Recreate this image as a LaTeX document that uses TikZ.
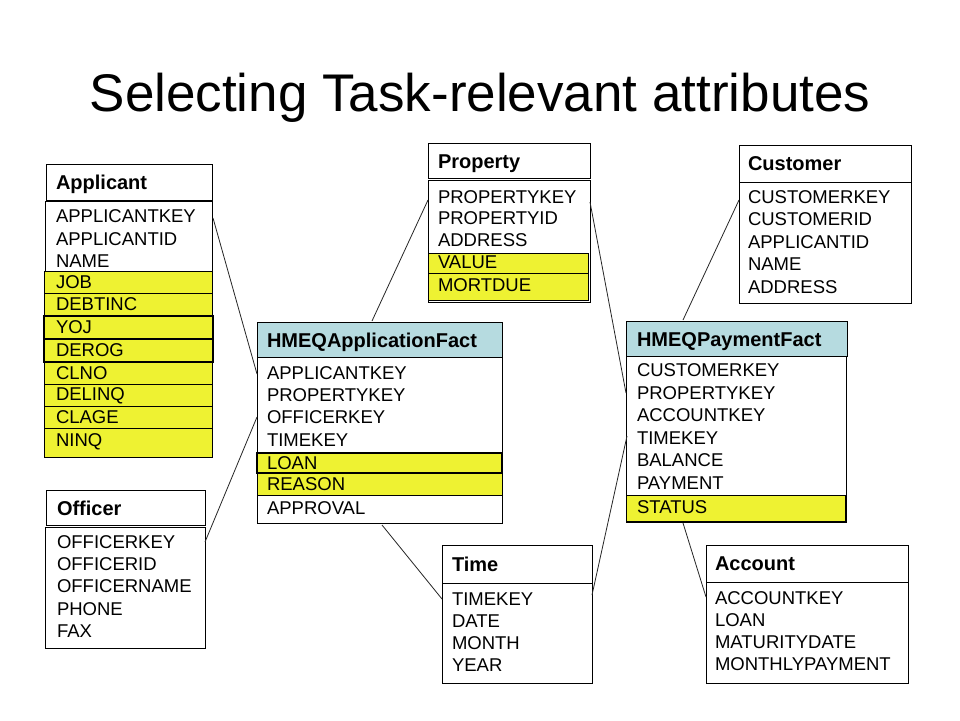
\documentclass[tikz,border=0pt]{standalone}
\usepackage{fontspec}
\setmainfont{Liberation Sans}
\usetikzlibrary{calc}
\definecolor{hlyellow}{RGB}{238,242,50}
\definecolor{hdrblue}{RGB}{182,219,224}
\tikzset{
  tbox/.style={draw=black, line width=1pt, fill=white, anchor=north west, inner sep=0pt, outer sep=0pt},
  factbox/.style={tbox, fill=hdrblue},
  hlrow/.style={draw=black, line width=1pt, fill=hlyellow, anchor=north west, inner sep=0pt, outer sep=0pt},
  fld/.style={anchor=west, inner sep=0pt, outer sep=0pt, text height=13.2pt, text depth=0pt, font=\fontsize{18.5}{20}\selectfont},
  ttl/.style={anchor=west, inner sep=0pt, outer sep=0pt, text height=14.3pt, text depth=0pt, font=\fontsize{20}{22}\selectfont\bfseries},
  link/.style={draw=black!85, line width=0.8pt}
}
\begin{document}
\begin{tikzpicture}[x=1pt,y=-1pt]
\path[use as bounding box, fill=white] (0,0) rectangle (960,720);

\node[anchor=base, inner sep=0pt, font=\fontsize{53}{60}\selectfont] (title) at (480,111) {Selecting Task-relevant attributes};

% ---------- Applicant ----------
\node[tbox, minimum width=166pt, minimum height=36pt] (appH) at (46,164) {};
\node[ttl] (appT) at (56,182) {Applicant};
\node[tbox, minimum width=167pt, minimum height=256pt] (appB) at (45,201) {};
\node[hlrow, minimum width=168pt, minimum height=22pt] (appY1) at (44,271) {};
\node[hlrow, minimum width=168pt, minimum height=23pt] (appY2) at (44,293) {};
\node[hlrow, minimum width=169pt, minimum height=23pt, line width=1.3pt] (appY3) at (44,316) {};
\node[hlrow, minimum width=169pt, minimum height=23pt, line width=1.3pt] (appY4) at (44,339) {};
\node[hlrow, minimum width=168pt, minimum height=22pt] (appY5) at (44,362) {};
\node[hlrow, minimum width=168pt, minimum height=22pt] (appY6) at (44,384) {};
\node[hlrow, minimum width=168pt, minimum height=22pt] (appY7) at (44,406) {};
\node[hlrow, minimum width=168pt, minimum height=29pt] (appY8) at (44,428) {};
\node[fld] (a1) at (56,216) {APPLICANTKEY};
\node[fld] (a2) at (56,239) {APPLICANTID};
\node[fld] (a3) at (56,261) {NAME};
\node[fld] (a4) at (56,282) {JOB};
\node[fld] (a5) at (56,304) {DEBTINC};
\node[fld] (a6) at (56,327) {YOJ};
\node[fld] (a7) at (56,350) {DEROG};
\node[fld] (a8) at (56,373) {CLNO};
\node[fld] (a9) at (56,394) {DELINQ};
\node[fld] (a10) at (56,417) {CLAGE};
\node[fld] (a11) at (56,440) {NINQ};

% ---------- Officer ----------
\node[tbox, minimum width=159pt, minimum height=35pt] (offH) at (46,490) {};
\node[ttl] (offT) at (57,508) {Officer};
\node[tbox, minimum width=160pt, minimum height=121pt] (offB) at (45,527) {};
\node[fld] (o1) at (57,542) {OFFICERKEY};
\node[fld] (o2) at (57,564) {OFFICERID};
\node[fld] (o3) at (57,586) {OFFICERNAME};
\node[fld] (o4) at (57,609) {PHONE};
\node[fld] (o5) at (57,631) {FAX};

% ---------- Property ----------
\node[tbox, minimum width=162pt, minimum height=35pt] (propH) at (428,143) {};
\node[ttl] (propT) at (438,161) {Property};
\node[tbox, minimum width=162pt, minimum height=122pt] (propB) at (428,180) {};
\node[hlrow, minimum width=160pt, minimum height=20pt] (propY1) at (428,253) {};
\node[hlrow, minimum width=160pt, minimum height=27pt] (propY2) at (428,273) {};
\node[fld] (p1) at (438,197) {PROPERTYKEY};
\node[fld] (p2) at (438,218) {PROPERTYID};
\node[fld] (p3) at (438,240) {ADDRESS};
\node[fld] (p4) at (438,262) {VALUE};
\node[fld] (p5) at (438,285) {MORTDUE};

% ---------- HMEQApplicationFact ----------
\node[factbox, minimum width=245pt, minimum height=35pt] (factH) at (257,322) {};
\node[ttl] (factT) at (267,340) {HMEQApplicationFact};
\node[tbox, minimum width=245pt, minimum height=166pt] (factB) at (257,357) {};
\node[hlrow, minimum width=245pt, minimum height=20pt, line width=1.4pt] (factY1) at (257,453) {};
\node[hlrow, minimum width=245pt, minimum height=22pt] (factY2) at (257,473) {};
\node[fld] (f1) at (267,373) {APPLICANTKEY};
\node[fld] (f2) at (267,395) {PROPERTYKEY};
\node[fld] (f3) at (267,417) {OFFICERKEY};
\node[fld] (f4) at (267,440) {TIMEKEY};
\node[fld] (f5) at (267,463) {LOAN};
\node[fld] (f6) at (267,484) {REASON};
\node[fld] (f7) at (267,508) {APPROVAL};

% ---------- HMEQPaymentFact ----------
\node[factbox, minimum width=221pt, minimum height=35pt] (payH) at (626,321) {};
\node[ttl] (payT) at (637,339) {HMEQPaymentFact};
\node[tbox, minimum width=220pt, minimum height=166pt] (payB) at (626,356) {};
\node[hlrow, minimum width=219pt, minimum height=26pt] (payY1) at (626,495) {};
\node[fld] (q1) at (637,370) {CUSTOMERKEY};
\node[fld] (q2) at (637,393) {PROPERTYKEY};
\node[fld] (q3) at (637,415) {ACCOUNTKEY};
\node[fld] (q4) at (637,438) {TIMEKEY};
\node[fld] (q5) at (637,460) {BALANCE};
\node[fld] (q6) at (637,483) {PAYMENT};
\node[fld] (q7) at (637,507) {STATUS};

% ---------- Customer ----------
\node[tbox, minimum width=172pt, minimum height=37pt] (custH) at (739,145) {};
\node[ttl] (custT) at (748,163) {Customer};
\node[tbox, minimum width=172pt, minimum height=121pt] (custB) at (739,182) {};
\node[fld] (c1) at (748,197) {CUSTOMERKEY};
\node[fld] (c2) at (748,219) {CUSTOMERID};
\node[fld] (c3) at (748,242) {APPLICANTID};
\node[fld] (c4) at (748,264) {NAME};
\node[fld] (c5) at (748,287) {ADDRESS};

% ---------- Time ----------
\node[tbox, minimum width=150pt, minimum height=38pt] (timeH) at (442,545) {};
\node[ttl] (timeT) at (452,564) {Time};
\node[tbox, minimum width=150pt, minimum height=100pt] (timeB) at (442,583) {};
\node[fld] (t1) at (452,599) {TIMEKEY};
\node[fld] (t2) at (452,621) {DATE};
\node[fld] (t3) at (452,643) {MONTH};
\node[fld] (t4) at (452,665) {YEAR};

% ---------- Account ----------
\node[tbox, minimum width=202pt, minimum height=37pt] (accH) at (706,545) {};
\node[ttl] (accT) at (715,563) {Account};
\node[tbox, minimum width=202pt, minimum height=101pt] (accB) at (706,582) {};
\node[fld] (ac1) at (715,598) {ACCOUNTKEY};
\node[fld] (ac2) at (715,620) {LOAN};
\node[fld] (ac3) at (715,642) {MATURITYDATE};
\node[fld] (ac4) at (715,664) {MONTHLYPAYMENT};

% ---------- connectors ----------
\draw[link] ($(appB.east |- a1.west)+(1,2)$) -- ($(factB.west |- f1.west)+(0,1)$);
\draw[link] (offB.east |- o1.west) -- (factB.west |- f3.west);
\draw[link] ($(factH.north west)+(115,-1)$) -- ($(propB.west |- p1.west)+(0,3)$);
\draw[link] ($(factB.south west)+(125,2)$) -- (timeB.west |- t1.west);
\draw[link] ($(propB.east |- p1.west)+(0,5)$) -- (payB.west |- q2.west);
\draw[link] ($(payH.north west)+(57,-1)$) -- ($(custB.west |- c1.west)+(0,3)$);
\draw[link] ($(timeB.east |- t1.west)+(0,-4)$) -- ($(payB.west |- q4.west)+(1,-2)$);
\draw[link] ($(payB.south west)+(57,1)$) -- ($(accB.west |- ac1.west)+(0,-1)$);
\end{tikzpicture}
\end{document}
